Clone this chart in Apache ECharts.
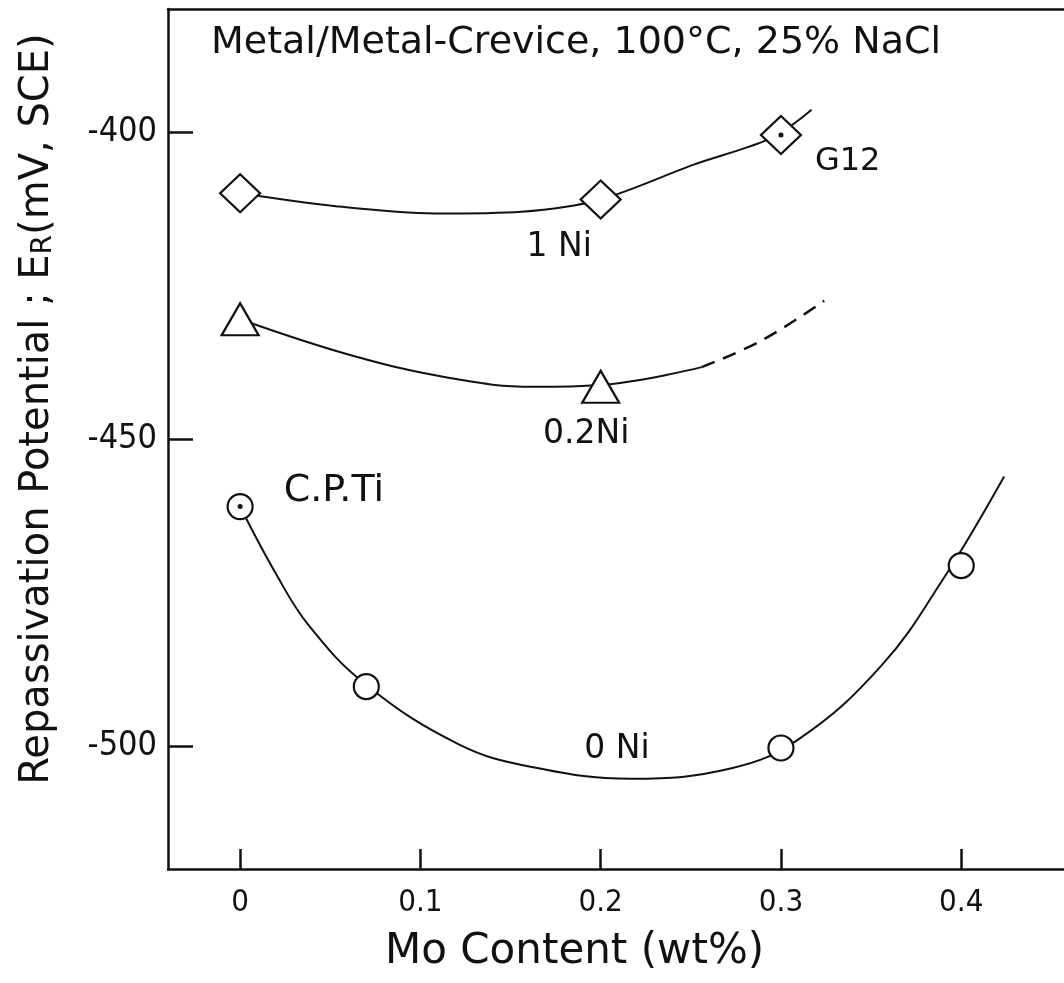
<!DOCTYPE html>
<html>
<head>
<meta charset="utf-8">
<script src="https://cdn.jsdelivr.net/npm/echarts@6/dist/echarts.min.js"></script>
<style>
  html, body { margin: 0; padding: 0; background: #fff; }
  #chart { width: 1064px; height: 983px; }
</style>
</head>
<body>
<div id="chart"></div>
<script>
// measured points (Mo wt%, E_R mV)
const moNi1 = [0, 0.2, 0.3];
const erNi1 = [-410, -411, -400.5];
const moNi02 = [0, 0.2];
const erNi02 = [-430.5, -441.5];
const moNi0 = [0, 0.07, 0.3, 0.4];
const erNi0 = [-461, -490.3, -500.3, -470.6];

// curves
const curveNi1 = [[0, -410], [0.053, -412.1], [0.108, -413.3], [0.156, -413], [0.2, -411], [0.252, -405.3], [0.29, -401.6], [0.306, -398.9], [0.317, -396.4]];
const curveNi02 = [[0, -430.5], [0.062, -436.4], [0.117, -440.1], [0.163, -441.5], [0.2, -441.2], [0.256, -438.3]];
const curveNi02Dash = [[0.256, -438.3], [0.289, -434], [0.324, -427.5]];
const curveNi0 = [
  [0, -461], [0.0194, -471.7], [0.0382, -480.4], [0.0698, -490], [0.1213, -499.7],
  [0.1618, -503.4], [0.2172, -505.3], [0.2726, -503.6], [0.3097, -498.9], [0.3557, -486.9],
  [0.3906, -472.5], [0.4238, -456.1]
];

const xTicks = [0, 0.1, 0.2, 0.3, 0.4];
const yTicks = [-400, -450, -500];

// curve labels
const notes = [
  { text: 'G12', x: 0.337, y: -404.9 },
  { text: '1 Ni', x: 0.177, y: -418.8 },
  { text: '0.2Ni', x: 0.192, y: -449.2 },
  { text: 'C.P.Ti', x: 0.052, y: -458.5 },
  { text: '0 Ni', x: 0.209, y: -500.5 }
];
const dotted = [[0.3, -400.5], [0, -461]]; // G12 and C.P.Ti carry a centre dot

const zip = (xs, ys) => xs.map((x, i) => [x, ys[i]]);
const ink = '#111';
const sans = 'DejaVu Sans';
const narrow = '"DejaVu Sans Condensed", "Roboto Condensed", "Liberation Sans", sans-serif';
const noteSize = { 'C.P.Ti': 38, 'G12': 32 };

const chart = echarts.init(document.getElementById('chart'));

const lineStyle = { color: ink, width: 2 };
const hollow = { color: '#fff', borderColor: ink, borderWidth: 2.2, opacity: 1 };

chart.setOption({
  animation: false,
  title: {
    text: 'Metal/Metal-Crevice, 100°C, 25% NaCl',
    left: 206, top: 19,
    textStyle: { fontFamily: sans, fontSize: 38, fontWeight: 'normal', color: ink }
  },
  grid: { left: 168, right: 0, top: 9, bottom: 114, containLabel: false, outerBoundsMode: 'none' },
  xAxis: [{
    type: 'value', min: -0.04, max: 0.457,
    axisLine: { onZero: false, lineStyle: { color: ink, width: 2.5 } },
    axisTick: { inside: true, length: 20, customValues: xTicks, lineStyle: { color: ink, width: 2.5 } },
    axisLabel: {
      customValues: xTicks, margin: 18, color: ink, fontFamily: narrow, fontSize: 31,
      formatter: v => v === 0 ? '0' : v.toFixed(1)
    },
    splitLine: { show: false }
  }, {
    type: 'value', position: 'top', min: -0.04, max: 0.457,
    axisLine: { show: true, onZero: false, lineStyle: { color: ink, width: 2.5 } },
    axisTick: { show: false }, axisLabel: { show: false }, splitLine: { show: false }
  }],
  yAxis: {
    type: 'value', min: -520, max: -380,
    axisLine: { onZero: false, lineStyle: { color: ink, width: 2.5 } },
    axisTick: { inside: true, length: 25, customValues: yTicks, lineStyle: { color: ink, width: 2.5 } },
    axisLabel: { customValues: yTicks, margin: 11, color: ink, fontFamily: narrow, fontSize: 34 },
    splitLine: { show: false }
  },
  graphic: [{
    type: 'text', left: 385, top: 931,
    style: { text: 'Mo Content (wt%)', font: '42px "DejaVu Sans"', fill: ink }
  }, {
    type: 'text', x: 38, y: 409, rotation: Math.PI / 2,
    style: {
      text: 'Repassivation Potential ; E{sub|R}(mV, SCE)',
      font: '40px "DejaVu Sans"', fill: ink, align: 'center', verticalAlign: 'middle',
      rich: { sub: { font: '28px "DejaVu Sans"', fill: ink, padding: [12, 0, 0, 0] } }
    }
  }],
  series: [
    { type: 'line', data: curveNi1, smooth: 0.3, symbol: 'none', lineStyle, z: 2 },
    { type: 'line', data: curveNi02, smooth: 0.4, symbol: 'none', lineStyle, z: 2 },
    { type: 'line', data: curveNi02Dash, smooth: 0.4, symbol: 'none', lineStyle: { color: ink, width: 2.5, type: [14, 9] }, z: 2 },
    { type: 'line', data: curveNi0, smooth: 0.4, symbol: 'none', lineStyle, z: 2 },
    { type: 'scatter', data: zip(moNi1, erNi1), symbol: 'diamond', symbolSize: [40, 38], itemStyle: hollow, z: 5 },
    { type: 'scatter', data: zip(moNi02, erNi02), symbol: 'triangle', symbolSize: [37, 32], itemStyle: hollow, z: 5 },
    { type: 'scatter', data: zip(moNi0, erNi0), symbol: 'circle', symbolSize: 25, itemStyle: hollow, z: 5 },
    { type: 'scatter', data: dotted, symbol: 'circle', symbolSize: 5, itemStyle: { color: ink, opacity: 1 }, z: 6 },
    {
      type: 'scatter', symbolSize: 0, z: 6, silent: true,
      itemStyle: { opacity: 1 },
      data: notes.map(n => ({
        value: [n.x, n.y], name: n.text,
        label: { fontSize: noteSize[n.text] || 33 }
      })),
      label: {
        show: true, position: 'inside', formatter: p => p.name,
        color: ink, opacity: 1, fontFamily: sans
      }
    }
  ]
});
</script>
</body>
</html>
